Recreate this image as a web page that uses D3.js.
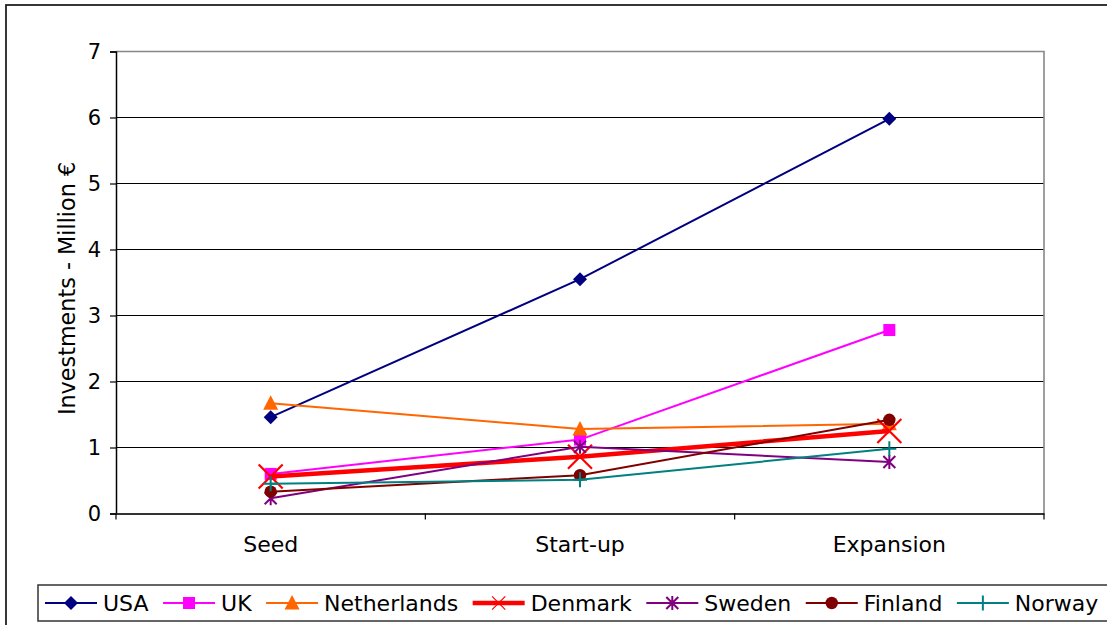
<!DOCTYPE html>
<html><head><meta charset="utf-8">
<script src="https://cdn.jsdelivr.net/npm/d3@7"></script>
<style>body{margin:0;background:#fff}svg{display:block}text{font-family:"DejaVu Sans",Verdana,sans-serif;fill:#000}</style>
</head><body><svg id="c" width="1107" height="625"></svg>
<script>
const categories = ["Seed", "Start-up", "Expansion"];
const seriesNames = ["USA", "UK", "Netherlands", "Denmark", "Sweden", "Finland", "Norway"];
const usa = [1.46, 3.55, 5.98];
const uk = [0.60, 1.12, 2.78];
const netherlands = [1.67, 1.28, 1.36];
const denmark = [0.56, 0.86, 1.25];
const sweden = [0.23, 1.01, 0.78];
const finland = [0.33, 0.58, 1.42];
const norway = [0.45, 0.51, 0.98];
const yTicks = [0, 1, 2, 3, 4, 5, 6, 7];
const yTitle = "Investments - Million €";

const seriesValues = [usa, uk, netherlands, denmark, sweden, finland, norway];
const styles = [
  {color:"#000080", marker:"diamond", width:2},
  {color:"#FF00FF", marker:"square", width:2},
  {color:"#FF6600", marker:"triangle", width:2},
  {color:"#FF0000", marker:"x", width:4.5},
  {color:"#800080", marker:"star", width:2},
  {color:"#800000", marker:"circle", width:2},
  {color:"#008080", marker:"plus", width:2}
];

const svg = d3.select("#c");
const L = 116, R = 1044, T = 51.5, B = 513.5;
const x = d3.scaleBand().domain(categories).range([L, R]);
const y = d3.scaleLinear().domain([0, 7]).range([B, T]);

// outer border
svg.append("rect").attr("x", 6).attr("y", 5).attr("width", 1120).attr("height", 640)
  .attr("fill", "none").attr("stroke", "#222").attr("stroke-width", 1.8);

// gridlines
svg.append("g").selectAll("line").data(yTicks.filter(d => d > 0 && d < 7)).join("line")
  .attr("x1", L).attr("x2", R).attr("y1", d => y(d)).attr("y2", d => y(d))
  .attr("stroke", "#000").attr("stroke-width", 1);
// plot border top/right (grey)
svg.append("path").attr("d", `M${L},${T}H${R}V${B}`).attr("fill", "none")
  .attr("stroke", "#888").attr("stroke-width", 1.6);

// y axis
const yAxis = d3.axisLeft(y).tickValues(yTicks).tickSize(6).tickPadding(9).tickFormat(d3.format("d"));
const gy = svg.append("g").attr("transform", `translate(${L},0)`).call(yAxis);
gy.select(".domain").attr("stroke", "#000").attr("stroke-width", 1.5);
gy.selectAll(".tick line").attr("stroke", "#000").attr("stroke-width", 1.2);
gy.selectAll(".tick text").attr("font-size", 21).attr("font-family", '"DejaVu Sans",Verdana,sans-serif').attr("fill", "#000");

// x axis
const gx = svg.append("g").attr("transform", `translate(0,${B})`).call(d3.axisBottom(x).tickSize(0).tickPadding(0));
gx.select(".domain").attr("stroke", "#333").attr("stroke-width", 2);
gx.selectAll(".tick text").attr("font-size", 22).attr("font-family", '"DejaVu Sans",Verdana,sans-serif')
  .attr("fill", "#000").attr("y", 38).attr("dy", 0);
const bounds = categories.map(c => x(c)).concat([R]);
svg.append("g").selectAll("line").data(bounds).join("line")
  .attr("x1", d => d).attr("x2", d => d).attr("y1", B).attr("y2", B + 6)
  .attr("stroke", "#000").attr("stroke-width", 1.2);

// y title
svg.append("text").attr("transform", `translate(75,${(T + B) / 2 + 6}) rotate(-90)`)
  .attr("text-anchor", "middle").attr("font-size", 22.3).text(yTitle);

function drawMarker(g, type, color) {
  switch (type) {
    case "diamond": g.append("path").attr("d", "M0,-7L7,0L0,7L-7,0Z").attr("fill", color); break;
    case "square": g.append("rect").attr("x", -6).attr("y", -6).attr("width", 12).attr("height", 12).attr("fill", color); break;
    case "triangle": g.append("path").attr("d", "M0,-8L7.5,6.5L-7.5,6.5Z").attr("fill", color); break;
    case "x": g.append("path").attr("d", "M-12,-12L12,12M-12,12L12,-12").attr("stroke", color).attr("stroke-width", 2.2).attr("fill", "none"); break;
    case "star": g.append("path").attr("d", "M0,-7V7M-6,-6L6,6M-6,6L6,-6").attr("stroke", color).attr("stroke-width", 2).attr("fill", "none"); break;
    case "circle": g.append("circle").attr("r", 6.2).attr("fill", color); break;
    case "plus": g.append("path").attr("d", "M-7,0H7M0,-7.5V7.5").attr("stroke", color).attr("stroke-width", 2).attr("fill", "none"); break;
  }
}

const line = d3.line().x((d, i) => x(categories[i]) + x.bandwidth() / 2).y(d => y(d));
seriesValues.forEach((vals, si) => {
  const st = styles[si];
  const g = svg.append("g");
  g.append("path").attr("d", line(vals)).attr("fill", "none").attr("stroke", st.color).attr("stroke-width", st.width);
  vals.forEach((v, i) => {
    const m = g.append("g").attr("transform", `translate(${x(categories[i]) + x.bandwidth() / 2},${y(v)})`);
    drawMarker(m, st.marker, st.color);
  });
});

// legend
const lg = svg.append("g");
lg.append("rect").attr("x", 38).attr("y", 585).attr("width", 1100).attr("height", 36)
  .attr("fill", "#fff").attr("stroke", "#333").attr("stroke-width", 1.5);
let lx = 45;
const ly = 603;
seriesNames.forEach((name, si) => {
  const st = styles[si];
  const g = lg.append("g");
  g.append("line").attr("x1", lx).attr("x2", lx + 52).attr("y1", ly).attr("y2", ly)
    .attr("stroke", st.color).attr("stroke-width", st.width);
  const m = g.append("g").attr("transform", `translate(${lx + 26},${ly})` + (st.marker === "x" ? " scale(0.55)" : ""));
  drawMarker(m, st.marker, st.color);
  const t = g.append("text").attr("x", lx + 58).attr("y", ly).attr("dy", "0.36em").attr("font-size", 22).text(name);
  lx = lx + 58 + t.node().getComputedTextLength() + 14.5;
});
</script></body></html>
